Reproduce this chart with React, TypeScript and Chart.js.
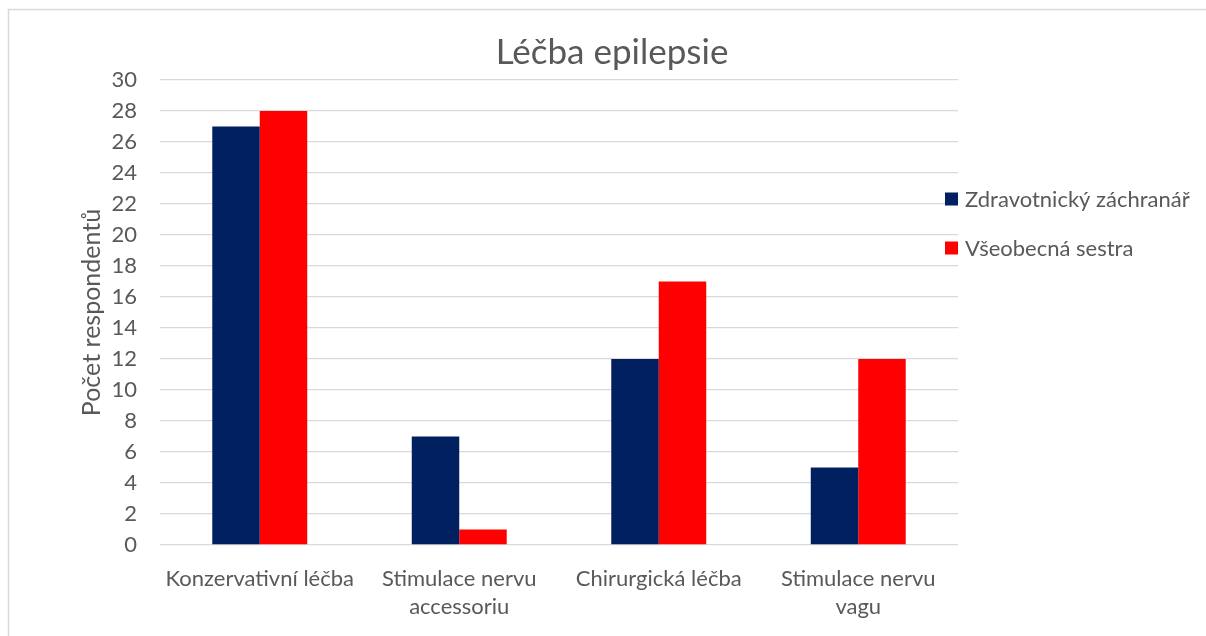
import React, { useEffect, useRef } from "react";
import { Chart, registerables } from "chart.js";

Chart.register(...registerables);

// ---- data ----
const categories: (string | string[])[] = [
  "Konzervativní léčba",
  ["Stimulace nervu", "accessoriu"],
  "Chirurgická léčba",
  ["Stimulace nervu", "vagu"],
];
const seriesNames = ["Zdravotnický záchranář", "Všeobecná sestra"];
const zachranarValues = [27, 7, 12, 5];
const sestraValues = [28, 1, 17, 12];
const seriesColors = ["#002060", "#FF0000"];
const chartTitle = "Léčba epilepsie";
const yAxisTitle = "Počet respondentů";
const yMin = 0;
const yMax = 30;
const yStep = 2;

const FONT = "Lato";
const TEXT = "#595959";
const GRID = "#d9d9d9";

const framePlugin = {
  id: "frame",
  beforeDraw(chart: any) {
    const ctx = chart.ctx;
    ctx.save();
    ctx.fillStyle = "#ffffff";
    ctx.fillRect(0, 0, chart.width, chart.height);
    ctx.strokeStyle = GRID;
    ctx.lineWidth = 1.5;
    ctx.beginPath();
    ctx.moveTo(8.5, chart.height + 2);
    ctx.lineTo(8.5, 9.5);
    ctx.lineTo(chart.width + 2, 9.5);
    ctx.stroke();
    ctx.restore();
  },
};

const titleAndLegendPlugin = {
  id: "titleAndLegend",
  afterDraw(chart: any) {
    const ctx = chart.ctx;
    ctx.save();
    // chart title
    ctx.fillStyle = TEXT;
    ctx.font = `35px ${FONT}`;
    ctx.textBaseline = "middle";
    ctx.textAlign = "center";
    ctx.fillText(chartTitle, 612, 53);
    // legend
    chart.data.datasets.forEach((ds: any, i: number) => {
      const y = 199 + i * 49;
      ctx.fillStyle = ds.backgroundColor;
      ctx.fillRect(945, y - 6.5, 13, 13);
      ctx.fillStyle = TEXT;
      ctx.font = `22px ${FONT}`;
      ctx.textBaseline = "middle";
      ctx.textAlign = "left";
      ctx.fillText(ds.label, 965, y + 1);
    });
    ctx.restore();
  },
};

export default function App() {
  const ref = useRef<HTMLCanvasElement | null>(null);

  useEffect(() => {
    if (!ref.current) return;
    const chart = new Chart(ref.current, {
      type: "bar",
      data: {
        labels: categories,
        datasets: [
          {
            label: seriesNames[0],
            data: zachranarValues,
            backgroundColor: seriesColors[0],
            categoryPercentage: 0.476,
            barPercentage: 1,
          },
          {
            label: seriesNames[1],
            data: sestraValues,
            backgroundColor: seriesColors[1],
            categoryPercentage: 0.476,
            barPercentage: 1,
          },
        ],
      },
      options: {
        responsive: false,
        animation: false,
        layout: { padding: { left: 0, right: 248, top: 80, bottom: 0 } },
        plugins: {
          legend: { display: false },
          tooltip: { enabled: false },
          title: { display: false },
        },
        scales: {
          x: {
            grid: { display: false },
            border: { display: false },
            ticks: {
              color: TEXT,
              font: { family: FONT, size: 22, lineHeight: 1.27 },
              padding: 12,
              maxRotation: 0,
              autoSkip: false,
            },
            afterFit(scale: any) {
              scale.height = 91;
            },
          },
          y: {
            min: yMin,
            max: yMax,
            grid: { color: GRID, lineWidth: 1.3, drawTicks: false },
            border: { display: false },
            ticks: {
              stepSize: yStep,
              color: TEXT,
              font: { family: FONT, size: 22 },
              padding: 23,
            },
            title: {
              display: true,
              text: yAxisTitle,
              color: TEXT,
              font: { family: FONT, size: 25, weight: "normal", lineHeight: 1.2 },
              padding: { top: 77, bottom: 0 },
            },
            afterFit(scale: any) {
              scale.width = 160;
            },
          },
        },
      },
      plugins: [framePlugin, titleAndLegendPlugin],
    });
    return () => chart.destroy();
  }, []);

  return (
    <div style={{ position: "fixed", left: 0, top: 0, width: 1206, height: 636, background: "#fff" }}>
      <canvas ref={ref} width={1206} height={636} style={{ display: "block" }} />
    </div>
  );
}
